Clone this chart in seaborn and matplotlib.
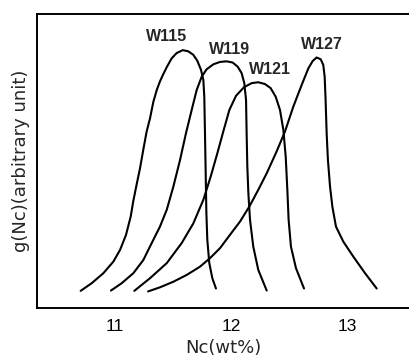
import numpy as np
import pandas as pd
import matplotlib
matplotlib.use('Agg')
import matplotlib.pyplot as plt
import seaborn as sns

# curves: Nc (wt%) vs g(Nc) (arbitrary, 0..1)
w115_x = [10.711, 10.806, 10.906, 10.991, 11.049, 11.100, 11.140, 11.163, 11.191, 11.220,
          11.249, 11.277, 11.306, 11.334, 11.363, 11.391, 11.420, 11.449, 11.491, 11.534,
          11.586, 11.634, 11.677, 11.711, 11.743, 11.763, 11.771, 11.777, 11.783, 11.789,
          11.797, 11.814, 11.840, 11.871]
w115_y = [0.059, 0.085, 0.119, 0.158, 0.198, 0.249, 0.311, 0.365, 0.420, 0.475,
          0.540, 0.600, 0.645, 0.700, 0.740, 0.770, 0.795, 0.818, 0.848, 0.866,
          0.876, 0.872, 0.860, 0.840, 0.809, 0.775, 0.718, 0.594, 0.458, 0.322,
          0.232, 0.153, 0.102, 0.067]

w119_x = [10.971, 11.063, 11.163, 11.249, 11.320, 11.391, 11.449, 11.506, 11.563, 11.614,
          11.663, 11.706, 11.749, 11.791, 11.849, 11.906, 11.963, 12.014, 12.057, 12.091,
          12.114, 12.129, 12.134, 12.140, 12.149, 12.163, 12.191, 12.234, 12.306]
w119_y = [0.060, 0.085, 0.119, 0.164, 0.221, 0.277, 0.334, 0.413, 0.503, 0.594,
          0.673, 0.741, 0.786, 0.811, 0.828, 0.836, 0.838, 0.834, 0.820, 0.798,
          0.764, 0.707, 0.594, 0.481, 0.390, 0.300, 0.209, 0.130, 0.060]

w121_x = [11.171, 11.306, 11.449, 11.577, 11.677, 11.763, 11.826, 11.883, 11.934, 11.986,
          12.043, 12.111, 12.177, 12.234, 12.291, 12.340, 12.383, 12.420, 12.449, 12.469,
          12.483, 12.494, 12.514, 12.557, 12.626]
w121_y = [0.059, 0.102, 0.153, 0.221, 0.288, 0.368, 0.447, 0.526, 0.600, 0.673,
          0.721, 0.750, 0.764, 0.767, 0.761, 0.747, 0.718, 0.673, 0.605, 0.515,
          0.402, 0.300, 0.209, 0.136, 0.067]

w127_x = [11.289, 11.391, 11.506, 11.620, 11.734, 11.820, 11.906, 11.991, 12.077, 12.157,
          12.234, 12.306, 12.391, 12.463, 12.534, 12.606, 12.663, 12.700, 12.734, 12.769,
          12.791, 12.803, 12.811, 12.820, 12.831, 12.849, 12.869, 12.900, 12.963, 13.049,
          13.149, 13.249]
w127_y = [0.057, 0.071, 0.090, 0.113, 0.141, 0.170, 0.204, 0.249, 0.294, 0.345,
          0.402, 0.458, 0.532, 0.600, 0.684, 0.758, 0.814, 0.839, 0.851, 0.845,
          0.826, 0.786, 0.707, 0.594, 0.503, 0.413, 0.345, 0.277, 0.226, 0.175,
          0.119, 0.067]

labels = ['W115', 'W119', 'W121', 'W127']
label_x = [11.449, 11.991, 12.334, 12.777]
label_y = [0.922, 0.877, 0.809, 0.894]
xticks = [11, 12, 13]

curves = {'W115': (w115_x, w115_y), 'W119': (w119_x, w119_y),
          'W121': (w121_x, w121_y), 'W127': (w127_x, w127_y)}

sns.set_style('white')
plt.rcParams['font.family'] = ['Liberation Sans', 'DejaVu Sans']

fig = plt.figure(figsize=(4.09, 3.58), dpi=100)
ax = fig.add_axes([0.0905, 0.139, 0.9095, 0.823])

for name in labels:
    cx, cy = curves[name]
    sns.lineplot(x=cx, y=cy, ax=ax, color='black', lw=1.5, sort=False, estimator=None)

for t, tx, ty in zip(labels, label_x, label_y):
    ax.text(tx, ty, t, ha='center', va='center', fontsize=11.5, fontweight='bold')

ax.set_xlim(10.337, 13.526)
ax.set_ylim(0, 1)
ax.set_xticks(xticks)
ax.set_xticklabels([str(t) for t in xticks], fontsize=12.5)
ax.set_yticks([])
ax.tick_params(axis='x', direction='in', length=5, width=1.2, pad=8, colors='black')
for s in ['left', 'bottom', 'top']:
    ax.spines[s].set_linewidth(1.4)
    ax.spines[s].set_color('black')
ax.spines['right'].set_visible(False)
ax.set_xlabel('Nc(wt%)', fontsize=13, labelpad=3, family='DejaVu Sans')
ax.set_ylabel('g(Nc)(arbitrary unit)', fontsize=13, labelpad=5, family='DejaVu Sans')

fig.savefig('out.png', dpi=100)
